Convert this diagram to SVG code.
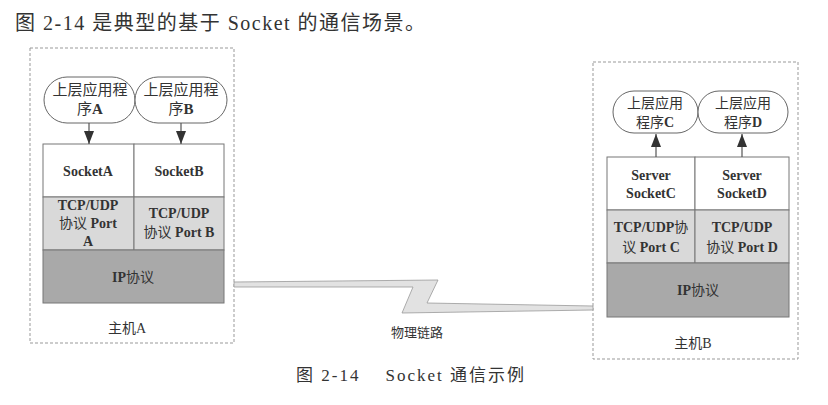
<svg xmlns="http://www.w3.org/2000/svg" width="828" height="405" viewBox="0 0 828 405">
<style>
.txt{font-family:"Liberation Serif","Noto Sans CJK SC",serif;fill:#333;text-anchor:middle}
.b{font-weight:bold}
.host{fill:none;stroke:#999;stroke-width:1;stroke-dasharray:3 2}
.app{fill:#fff;stroke:#666;stroke-width:1}
.cell{stroke:#777;stroke-width:1}
.w{fill:#fff}
.g1{fill:#d9d9d9}
.g2{fill:#a9a9a9}
.ar{stroke:#555;stroke-width:1.2;fill:none}
</style>
<defs>
<marker id="ah" viewBox="0 0 13 10" refX="13" refY="5" markerWidth="13" markerHeight="10" markerUnits="userSpaceOnUse" orient="auto">
<path d="M0,0 L13,5 L0,10 z" fill="#333"/>
</marker>
</defs>
<rect width="828" height="405" fill="#fff"/>
<text class="txt" x="15" y="30" font-size="20" letter-spacing="1.5" style="text-anchor:start">图 2-14 是典型的基于 Socket 的通信场景。</text>

<g id="hostA">
<rect class="host" x="30" y="48" width="204" height="295"/>
<text class="txt" x="127" y="333" font-size="14">主机A</text>
</g>
<g id="appA">
<rect class="app" x="44" y="77" width="91" height="46" rx="23"/>
<text class="txt" x="90" y="95" font-size="15">上层应用程</text>
<text class="txt" x="90" y="114" font-size="15">序<tspan class="b">A</tspan></text>
</g>
<g id="appB">
<rect class="app" x="135" y="77" width="92" height="46" rx="23"/>
<text class="txt" x="181" y="95" font-size="15">上层应用程</text>
<text class="txt" x="181" y="114" font-size="15">序<tspan class="b">B</tspan></text>
</g>
<g id="socketA">
<rect class="cell w" x="43" y="144" width="91" height="53"/>
<text class="txt b" x="88" y="176" font-size="14">SocketA</text>
</g>
<g id="socketB">
<rect class="cell w" x="134" y="144" width="90" height="53"/>
<text class="txt b" x="179" y="176" font-size="14">SocketB</text>
</g>
<g id="tcpA">
<rect class="cell g1" x="43" y="197" width="91" height="53"/>
<text class="txt b" x="88" y="210" font-size="14">TCP/UDP</text>
<text class="txt" x="88" y="228" font-size="14">协议 <tspan class="b">Port</tspan></text>
<text class="txt b" x="88" y="246" font-size="14">A</text>
</g>
<g id="tcpB">
<rect class="cell g1" x="134" y="197" width="90" height="53"/>
<text class="txt b" x="179" y="218" font-size="14">TCP/UDP</text>
<text class="txt" x="179" y="237" font-size="14">协议 <tspan class="b">Port B</tspan></text>
</g>
<g id="ipA">
<rect class="cell g2" x="43" y="250" width="181" height="53"/>
<text class="txt" x="133" y="282" font-size="14"><tspan class="b">IP</tspan>协议</text>
</g>

<g id="hostB">
<rect class="host" x="593" y="62" width="205" height="297"/>
<text class="txt" x="693" y="348" font-size="14">主机B</text>
</g>
<g id="appC">
<rect class="app" x="613" y="91" width="85" height="42" rx="21"/>
<text class="txt" x="655" y="108" font-size="14">上层应用</text>
<text class="txt" x="655" y="127" font-size="14">程序<tspan class="b">C</tspan></text>
</g>
<g id="appD">
<rect class="app" x="698" y="91" width="90" height="42" rx="21"/>
<text class="txt" x="743" y="108" font-size="14">上层应用</text>
<text class="txt" x="743" y="127" font-size="14">程序<tspan class="b">D</tspan></text>
</g>
<g id="socketC">
<rect class="cell w" x="607" y="157" width="88" height="53"/>
<text class="txt b" x="651" y="180" font-size="14">Server</text>
<text class="txt b" x="651" y="198" font-size="14">SocketC</text>
</g>
<g id="socketD">
<rect class="cell w" x="695" y="157" width="94" height="53"/>
<text class="txt b" x="742" y="180" font-size="14">Server</text>
<text class="txt b" x="742" y="198" font-size="14">SocketD</text>
</g>
<g id="tcpC">
<rect class="cell g1" x="607" y="210" width="88" height="53"/>
<text class="txt" x="651" y="232" font-size="14"><tspan class="b">TCP/UDP</tspan>协</text>
<text class="txt" x="651" y="252" font-size="14">议 <tspan class="b">Port C</tspan></text>
</g>
<g id="tcpD">
<rect class="cell g1" x="695" y="210" width="94" height="53"/>
<text class="txt b" x="742" y="232" font-size="14">TCP/UDP</text>
<text class="txt" x="742" y="252" font-size="14">协议 <tspan class="b">Port D</tspan></text>
</g>
<g id="ipB">
<rect class="cell g2" x="607" y="263" width="182" height="54"/>
<text class="txt" x="698" y="295" font-size="14"><tspan class="b">IP</tspan>协议</text>
</g>

<g id="connectors">
<line class="ar" x1="89" y1="123" x2="89" y2="144" marker-end="url(#ah)"/>
<line class="ar" x1="181" y1="123" x2="181" y2="144" marker-end="url(#ah)"/>
<line class="ar" x1="656" y1="157" x2="656" y2="134" marker-end="url(#ah)"/>
<line class="ar" x1="742" y1="157" x2="742" y2="134" marker-end="url(#ah)"/>
<polygon points="234,282 438,280 427,303 593,306 593,310 402,313 413,287 234,287" fill="#e2e2e2" stroke="#999" stroke-width="0.8"/>
</g>
<text class="txt" x="417" y="337" font-size="13">物理链路</text>
<text class="txt" x="411" y="381" font-size="17" letter-spacing="2" xml:space="preserve">图 2-14    Socket 通信示例</text>
</svg>
